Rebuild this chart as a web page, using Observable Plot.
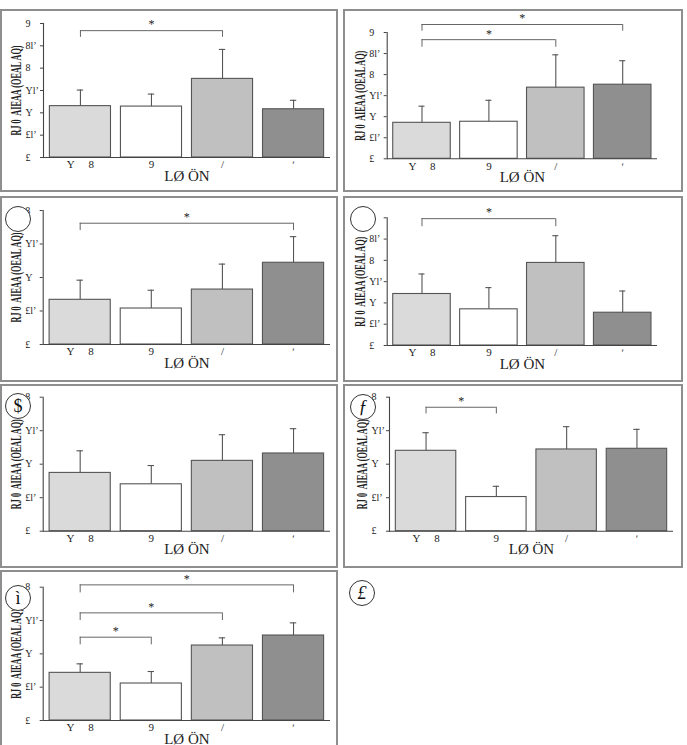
<!DOCTYPE html>
<html>
<head>
<meta charset="utf-8">
<script src="https://cdn.jsdelivr.net/npm/d3@7"></script>
<script src="https://cdn.jsdelivr.net/npm/@observablehq/plot@0.6"></script>
<style>
  html, body { margin: 0; padding: 0; background: #fff; }
  #page { position: relative; width: 687px; height: 745px; overflow: hidden; background: #fff; }
  .box { position: absolute; box-sizing: border-box; border: 2px solid #8e8e8e; }
  .plot { position: absolute; }
  .badge { position: absolute; width: 26px; height: 26px; box-sizing: border-box; border: 1px solid #333; border-radius: 50%;
           background: #fff; font-family: "Liberation Serif", serif; font-size: 18px; line-height: 24px; text-align: center; color: #111; }
</style>
</head>
<body>
<div id="page"></div>
<script>
// ---- categories and labels (as shown in the picture) ----
const categories = ["Y\u2003 8", "9", "/", "\u02B9"];
const yTickValues = [0, 0.5, 1, 1.5, 2, 2.5, 3];
const yTickLabels = ["£", "£l\u02BC", "Y", "Yl\u02BC", "8", "8l\u02BC", "9"];
const yTitle = "RJ 0  AIEAA (OEAL AQ)";
const xTitle = "LØ ÖN";

// ---- panel values (bar means, error-bar tops) ----
const p1Means = [1.15, 1.14, 1.76, 1.08];
const p1Tops  = [1.51, 1.42, 2.42, 1.28];
const p2Means = [0.855, 0.88, 1.69, 1.76];
const p2Tops  = [1.25, 1.39, 2.47, 2.33];
const p3Means = [0.667, 0.537, 0.82, 1.22];
const p3Tops  = [0.96, 0.81, 1.20, 1.61];
const p4Means = [1.21, 0.85, 1.94, 0.77];
const p4Tops  = [1.68, 1.36, 2.58, 1.28];
const p5Means = [0.87, 0.70, 1.05, 1.16];
const p5Tops  = [1.20, 0.98, 1.44, 1.53];
const p6Means = [1.20, 0.51, 1.22, 1.23];
const p6Tops  = [1.47, 0.67, 1.56, 1.52];
const p7Means = [0.715, 0.555, 1.125, 1.275];
const p7Tops  = [0.85, 0.735, 1.24, 1.465];

// ---- significance brackets: from bar a to bar b at height y, drops to t ----
const p1Brackets = [{a: 0, b: 2, y: 2.84, t: 2.69}];
const p2Brackets = [{a: 0, b: 2, y: 2.83, t: 2.65}, {a: 0, b: 3, y: 3.19, t: 3.03}];
const p3Brackets = [{a: 0, b: 3, y: 1.81, t: 1.70}];
const p4Brackets = [{a: 0, b: 2, y: 2.98, t: 2.79}];
const p5Brackets = [];
const p6Brackets = [{a: 0, b: 1, y: 1.85, t: 1.75}];
const p7Brackets = [{a: 0, b: 1, y: 1.25, t: 1.135}, {a: 0, b: 2, y: 1.615, t: 1.50}, {a: 0, b: 3, y: 2.035, t: 1.915}];

const panelBadges = ["", "", "", "", "$", "\u0192", "\u00EC", "£"];

// ---- styles / layout ----
const barFills = ["#dadada", "#ffffff", "#c0c0c0", "#8f8f8f"];
const layouts = [
  {l: 0,   t: 9,   w: 338, h: 183, mL: 43,   mR: 8,  mT: 14,   mB: 35,   ymax: 3},
  {l: 343, t: 9,   w: 340, h: 183, mL: 43.7, mR: 26, mT: 23,   mB: 33.7, ymax: 3},
  {l: 0,   t: 196, w: 338, h: 186, mL: 42.7, mR: 8,  mT: 14,   mB: 38,   ymax: 2},
  {l: 343, t: 196, w: 340, h: 186, mL: 43.7, mR: 26, mT: 21.3, mB: 37,   ymax: 3},
  {l: 0,   t: 384, w: 338, h: 184, mL: 42.7, mR: 8,  mT: 12.7, mB: 37.3, ymax: 2},
  {l: 343, t: 384, w: 340, h: 184, mL: 46,   mR: 10, mT: 12.7, mB: 37.3, ymax: 2},
  {l: 0,   t: 570, w: 338, h: 184, mL: 42.7, mR: 8,  mT: 16.7, mB: 34,   ymax: 2}
];
const badgePos = [null, null, [18, 219], [363, 219], [18, 406], [363, 407], [18, 598], [362, 593]];

const panels = [
  [p1Means, p1Tops, p1Brackets], [p2Means, p2Tops, p2Brackets], [p3Means, p3Tops, p3Brackets],
  [p4Means, p4Tops, p4Brackets], [p5Means, p5Tops, p5Brackets], [p6Means, p6Tops, p6Brackets],
  [p7Means, p7Tops, p7Brackets]
];

const page = document.getElementById("page");

panels.forEach(([means, tops, brackets], k) => {
  const L = layouts[k];
  const rows = means.map((v, i) => ({i, v, e: tops[i]}));
  const ticks = yTickValues.filter(t => t <= L.ymax);
  const box = document.createElement("div");
  box.className = "box";
  Object.assign(box.style, {left: L.l + "px", top: L.t + "px", width: L.w + "px", height: L.h + "px"});
  page.appendChild(box);

  const chart = Plot.plot({
    width: L.w, height: L.h,
    marginLeft: L.mL, marginRight: L.mR, marginTop: L.mT, marginBottom: L.mB,
    x: {domain: [-0.52, 3.52], axis: null},
    y: {domain: [0, L.ymax], axis: null},
    color: {type: "identity"},
    style: {fontFamily: "'Liberation Serif', serif", fontSize: "10px", color: "#222", background: "transparent", overflow: "visible"},
    marks: [
      Plot.rectY(rows, {x1: d => d.i - 0.43, x2: d => d.i + 0.43, y1: 0, y2: "v", fill: d => barFills[d.i], stroke: "#555", strokeWidth: 1.1}),
      Plot.ruleX(rows, {x: "i", y1: "v", y2: "e", stroke: "#555", strokeWidth: 1.1}),
      Plot.ruleY(rows, {y: "e", x1: d => d.i - 0.045, x2: d => d.i + 0.045, stroke: "#555", strokeWidth: 1.1}),
      Plot.ruleY([0], {stroke: "#444", strokeWidth: 1.1}),
      Plot.frame({anchor: "left", stroke: "#444", strokeWidth: 1.1}),
      Plot.axisY({ticks, tickFormat: t => yTickLabels[yTickValues.indexOf(t)], tickSize: 3, tickPadding: 15, textAnchor: "start", fontSize: 10, stroke: "#444"}),
      Plot.axisX({ticks: [0, 1, 2, 3], tickFormat: i => categories[i], tickSize: 0, tickPadding: 3, fontSize: 11}),
      Plot.text([xTitle], {text: d => d, frameAnchor: "bottom", dy: 23, fontSize: 15}),
      Plot.text([yTitle], {text: d => d, frameAnchor: "left", textAnchor: "middle", dx: -27, rotate: -90, fontSize: 14, fontWeight: "bold", className: "ylab"}),
      Plot.ruleY(brackets, {y: "y", x1: "a", x2: "b", stroke: "#666", strokeWidth: 1}),
      Plot.ruleX(brackets, {x: "a", y1: "y", y2: "t", stroke: "#666", strokeWidth: 1}),
      Plot.ruleX(brackets, {x: "b", y1: "y", y2: "t", stroke: "#666", strokeWidth: 1}),
      Plot.text(brackets, {x: d => (d.a + d.b) / 2, y: "y", text: () => "*", dy: -6, fontSize: 12})
    ]
  });
  chart.classList.add("plot");
  Object.assign(chart.style, {left: L.l + "px", top: L.t + "px"});
  page.appendChild(chart);
  // condense the rotated axis title to the length seen in the picture
  chart.querySelectorAll(".ylab text").forEach(t => {
    t.setAttribute("text-anchor", "middle");
    const len = t.getComputedTextLength();
    if (len > 0) {
      const s = 90 / len;
      const tr = t.getAttribute("transform") || "";
      t.setAttribute("transform", tr + ` scale(${s},1)`);
    }
  });
});

panelBadges.forEach((g, k) => {
  const p = badgePos[k];
  if (!p) return;
  const b = document.createElement("div");
  b.className = "badge";
  b.textContent = g;
  if (g === "\u0192" || g === "£") b.style.fontStyle = "italic";
  Object.assign(b.style, {left: (p[0] - 13) + "px", top: (p[1] - 13) + "px"});
  page.appendChild(b);
});
</script>
</body>
</html>
